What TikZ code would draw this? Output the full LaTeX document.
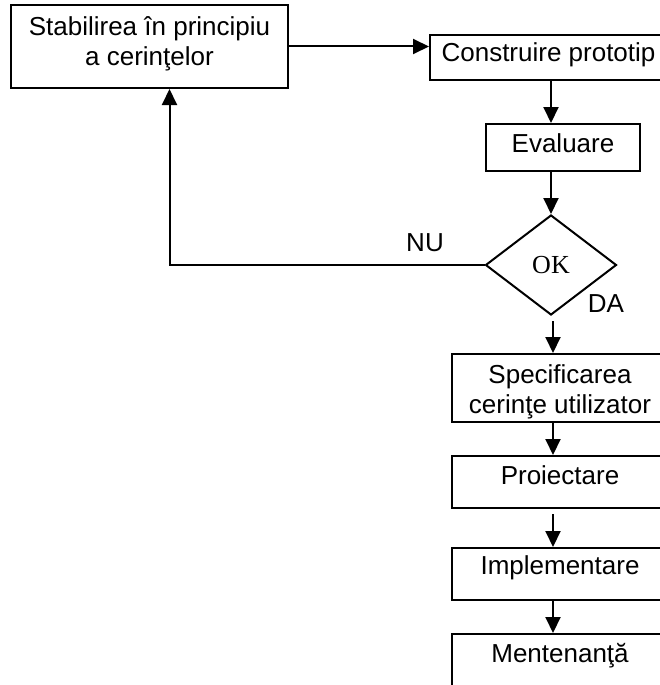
\documentclass[tikz,border=0pt]{standalone}
\usepackage{fontspec}
\setmainfont{Liberation Sans}
\newfontfamily\decfont{Liberation Serif}
\usetikzlibrary{arrows.meta,shapes.geometric}
\begin{document}
\begin{tikzpicture}[x=1pt,y=-1pt,
  every node/.style={font=\fontsize{26}{30}\selectfont},
  box/.style={draw,line width=2pt,inner sep=0pt,align=center,anchor=north west},
  decision/.style={draw,diamond,line width=2pt,inner sep=0pt,
    minimum width=131pt,minimum height=100pt,font=\decfont\fontsize{26}{30}\selectfont},
  flow/.style={line width=2pt,-{Triangle[width=15pt,length=16pt]}},
  tag/.style={anchor=base}]
\clip (0,0) rectangle (660,685);
\fill[white] (0,0) rectangle (660,685);

% process boxes (the right column runs past the page edge)
\node[box,minimum width=277pt,text height=61pt,text depth=22pt] (req) at (10,4)
  {Stabilirea în principiu\\a cerinţelor};
\node[box,minimum width=237pt,text height=27pt,text depth=18pt] (proto) at (429,34)
  {Construire prototip};
\node[box,minimum width=154pt,text height=28pt,text depth=19pt] (eval) at (485,123)
  {Evaluare};
\node[decision] (ok) at (551,265) {OK};
\node[box,minimum width=216pt,text height=59pt,text depth=9pt] (spec) at (451,353)
  {Specificarea\\cerinţe utilizator};
\node[box,minimum width=216pt,text height=28pt,text depth=24pt] (design) at (451,455)
  {Proiectare};
\node[box,minimum width=216pt,text height=26pt,text depth=26pt] (impl) at (451,547)
  {Implementare};
\node[box,minimum width=216pt,text height=28pt,text depth=42pt] (maint) at (451,633)
  {Mentenanţă};

% branch labels
\node[tag] (nu) at (425,251) {NU};
\node[tag] (da) at (606,312) {DA};

% connectors
\coordinate (back) at ([xshift=20pt]req.south);
\coordinate (col) at ([xshift=2pt]ok.south);
\draw[flow] (req.east) -- (req.east -| proto.west);
\draw[flow] (proto.south -| ok.north) -- (eval.north -| ok.north);
\draw[flow] (eval.south -| ok.north) -- (ok.north);
\draw[flow] (ok.west) -| (back);
\draw[flow] ([yshift=-5pt]col) -- (spec.north -| col);
\draw[flow] (spec.south -| col) -- (design.north -| col);
\draw[flow] ([yshift=-5pt]design.south -| col) -- (impl.north -| col);
\draw[flow] (impl.south -| col) -- (maint.north -| col);
\end{tikzpicture}
\end{document}
